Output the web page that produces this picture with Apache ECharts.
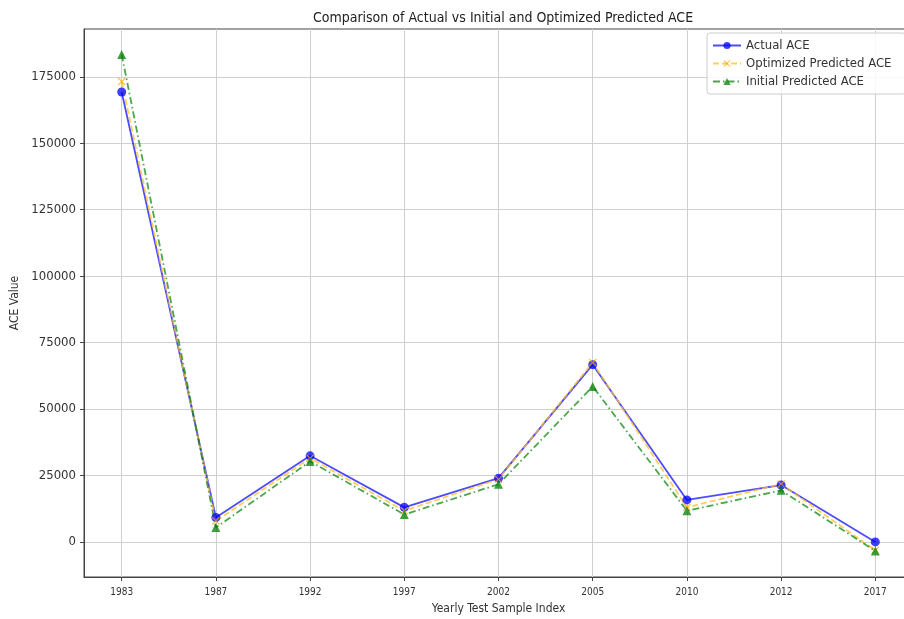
<!DOCTYPE html>
<html>
<head>
<meta charset="utf-8">
<title>ACE comparison</title>
<script src="https://cdn.jsdelivr.net/npm/echarts@6/dist/echarts.min.js"></script>
<style>
  html, body { margin: 0; padding: 0; background: #fff; }
  #chart { width: 904px; height: 619px; }
</style>
</head>
<body>
<div id="chart"></div>
<script>
// Yearly test samples (x positions are the sample index)
const years = ['1983', '1987', '1992', '1997', '2002', '2005', '2010', '2012', '2017'];
const actualACE = [169300, 9200, 32400, 13000, 24000, 66700, 15800, 21400, 0];
const optimizedACE = [173200, 7900, 31500, 11700, 23600, 67500, 13000, 21800, -3200];
const initialACE = [183400, 5400, 30300, 10300, 21700, 58500, 11700, 19400, -3400];
const yTicks = [0, 25000, 50000, 75000, 100000, 125000, 150000, 175000];

const FONT = '"DejaVu Sans Condensed", "DejaVu Sans", sans-serif';
const xIdx = years.map((_, i) => i);
const pairs = arr => arr.map((v, i) => [i, v]);
const crossPath = 'path://M0,1 L1,0 L5,4 L9,0 L10,1 L6,5 L10,9 L9,10 L5,6 L1,10 L0,9 L4,5 Z';

const chart = echarts.init(document.getElementById('chart'), null, { renderer: 'canvas' });
chart.setOption({
  animation: false,
  backgroundColor: '#fff',
  title: {
    text: 'Comparison of Actual vs Initial and Optimized Predicted ACE',
    left: 498,
    textAlign: 'center',
    top: 6,
    textStyle: { fontFamily: FONT, fontSize: 14, fontWeight: 'normal', color: '#222' }
  },
  legend: {
    orient: 'vertical',
    left: 707,
    top: 33,
    padding: [6, 14, 6, 5],
    itemGap: 5,
    itemWidth: 28,
    itemHeight: 9,
    borderColor: '#ccc',
    borderWidth: 1,
    borderRadius: 3,
    backgroundColor: 'rgba(255,255,255,0.85)',
    textStyle: { fontFamily: FONT, fontSize: 13, color: '#333' },
    data: ['Actual ACE', 'Optimized Predicted ACE', 'Initial Predicted ACE']
  },
  grid: {
    left: 84,
    top: 29,
    bottom: 42,
    width: 829,
    outerBoundsMode: 'none',
    show: true,
    borderColor: '#444',
    borderWidth: 1,
    containLabel: false
  },
  xAxis: {
    type: 'value',
    min: -0.4,
    max: 8.4,
    minInterval: 1,
    maxInterval: 1,
    name: 'Yearly Test Sample Index',
    nameLocation: 'middle',
    nameGap: 26,
    nameTextStyle: { fontFamily: FONT, fontSize: 12, color: '#333' },
    axisLine: { show: true, onZero: false, lineStyle: { color: '#444', width: 1 } },
    axisTick: { show: true, length: 4, customValues: xIdx, lineStyle: { color: '#444' } },
    axisLabel: {
      customValues: xIdx,
      margin: 10,
      fontFamily: FONT,
      fontSize: 10,
      color: '#333',
      formatter: v => years[Math.round(v)] || ''
    },
    splitLine: { show: true, lineStyle: { color: '#cfcfcf', width: 1 } }
  },
  yAxis: {
    type: 'value',
    min: -13200,
    max: 193000,
    minInterval: 25000,
    maxInterval: 25000,
    name: 'ACE Value',
    nameLocation: 'middle',
    nameGap: 59,
    nameTextStyle: { fontFamily: FONT, fontSize: 12, color: '#333' },
    axisLine: { show: true, onZero: false, lineStyle: { color: '#444', width: 1 } },
    axisTick: { show: true, length: 4, customValues: yTicks, lineStyle: { color: '#444' } },
    axisLabel: {
      customValues: yTicks,
      margin: 8,
      fontFamily: FONT,
      fontSize: 13,
      color: '#333',
      formatter: v => String(v)
    },
    splitLine: { show: true, lineStyle: { color: '#cfcfcf', width: 1 } }
  },
  series: [
    {
      name: 'Actual ACE',
      type: 'line',
      data: pairs(actualACE),
      symbol: 'circle',
      symbolSize: 9,
      color: 'rgba(0,0,255,0.7)',
      lineStyle: { width: 1.8, type: 'solid', color: 'rgba(0,0,255,0.7)' },
      itemStyle: { color: 'rgba(0,0,255,0.75)' }
    },
    {
      name: 'Optimized Predicted ACE',
      type: 'line',
      data: pairs(optimizedACE),
      symbol: crossPath,
      symbolSize: 8,
      color: 'rgba(255,165,0,0.7)',
      lineStyle: { width: 1.8, type: [6, 3], color: 'rgba(255,190,40,0.75)' },
      itemStyle: { color: 'rgba(255,170,0,0.75)' }
    },
    {
      name: 'Initial Predicted ACE',
      type: 'line',
      data: pairs(initialACE),
      symbol: 'triangle',
      symbolSize: 9,
      color: 'rgba(0,128,0,0.7)',
      lineStyle: { width: 1.8, type: [7, 3, 1.5, 3], color: 'rgba(0,128,0,0.7)' },
      itemStyle: { color: 'rgba(0,128,0,0.75)' }
    }
  ]
});
</script>
</body>
</html>
